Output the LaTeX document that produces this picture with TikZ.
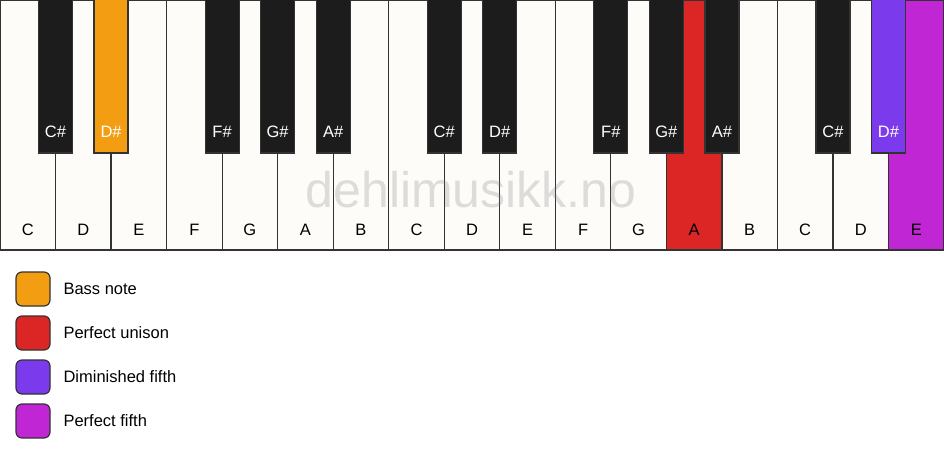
\documentclass[tikz,border=0pt]{standalone}
\usepackage{fontspec}
\setmainfont{Liberation Sans}
\definecolor{keywhite}{HTML}{FDFCF9}
\definecolor{keyblack}{HTML}{1C1C1C}
\definecolor{keyedge}{HTML}{333333}
\definecolor{bassnote}{HTML}{F39E12}
\definecolor{unison}{HTML}{DC2626}
\definecolor{dimfifth}{HTML}{7C3AED}
\definecolor{perffifth}{HTML}{C026D3}

\begin{document}
\begin{tikzpicture}[x=1pt,y=-1pt,
    keyline/.style={draw=keyedge,line width=1.2pt},
    keytext/.style={font=\fontsize{16.5}{19}\selectfont},
    swatch/.style={draw=keyedge,line width=1.2pt,rounded corners=6pt}]
  \useasboundingbox (0,0) rectangle (944,461);
  \def\kw{55.53}
  % white keys
  \foreach \n/\col/\tc [count=\i from 0, evaluate={\xa=\i*\kw; \xm=(\i+0.5)*\kw;}] in
      {C/keywhite/black,D/keywhite/black,E/keywhite/black,F/keywhite/black,
       G/keywhite/black,A/keywhite/black,B/keywhite/black,C/keywhite/black,
       D/keywhite/black,E/keywhite/black,F/keywhite/black,G/keywhite/black,
       A/unison/black,B/keywhite/black,C/keywhite/black,D/keywhite/black,
       E/perffifth/black}{
    \draw[keyline,fill=\col] (\xa,0) rectangle ++(\kw,250);
    \node[keytext,text=\tc] (w\i) at (\xm,230) {\n};
  }
  % black keys
  \foreach \b/\n/\col in {1/C\#/keyblack,2/D\#/bassnote,4/F\#/keyblack,
      5/G\#/keyblack,6/A\#/keyblack,8/C\#/keyblack,9/D\#/keyblack,
      11/F\#/keyblack,12/G\#/keyblack,13/A\#/keyblack,15/C\#/keyblack,
      16/D\#/dimfifth}{
    \draw[keyline,fill=\col] ({\b*\kw-17},-1) rectangle ++(34,154);
    \node[keytext,text=white] (b\b) at ({\b*\kw},132) {\n};
  }
  \node[font=\fontsize{50}{52}\selectfont,text=gray,opacity=0.25] (mark) at (471,190) {dehlimusikk.no};
  % legend
  \foreach \col/\txt [count=\j from 0, evaluate={\ya=272+\j*44;}] in
      {bassnote/Bass note,unison/Perfect unison,dimfifth/Diminished fifth,perffifth/Perfect fifth}{
    \draw[swatch,fill=\col] (16,\ya) rectangle ++(34,34);
    \node[keytext,anchor=west] (leg\j) at (60,\ya+17) {\txt};
  }
\end{tikzpicture}
\end{document}
